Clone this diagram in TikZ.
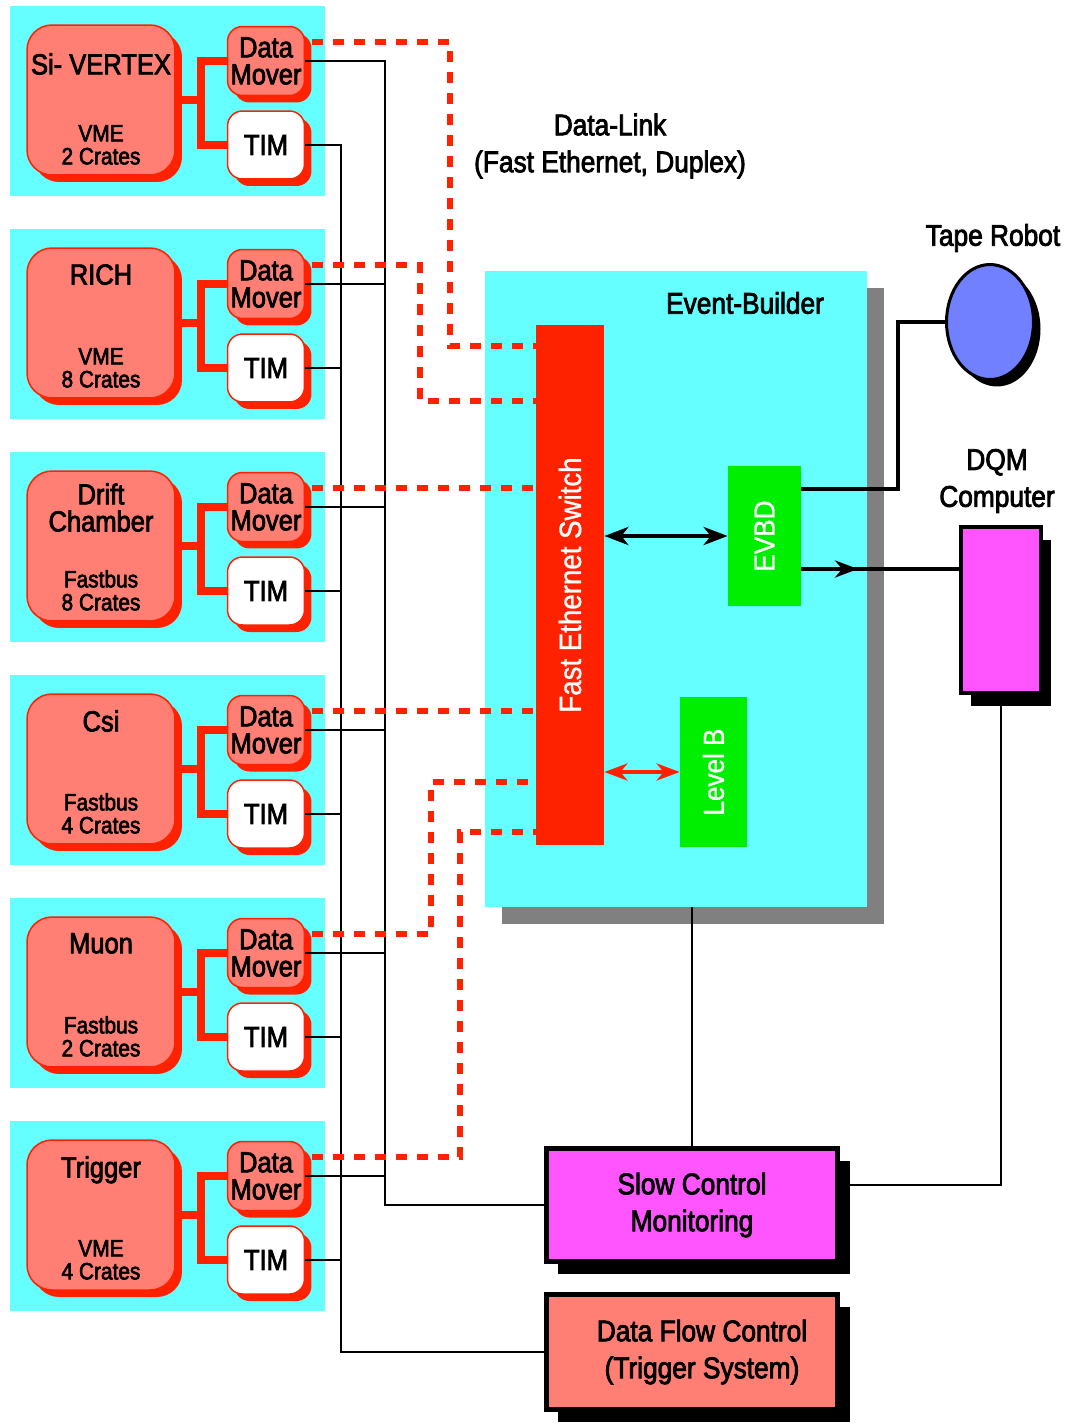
\documentclass[tikz,border=0pt]{standalone}
\usepackage{fontspec}
\setmainfont{Liberation Sans}[FakeStretch=0.88, FakeBold=2.6]
\newfontfamily\daqwhite{Liberation Sans}[FakeStretch=0.9, FakeBold=1]
\usepackage{graphicx}
\usetikzlibrary{arrows.meta, positioning, calc, shapes.geometric, shadows, decorations.markings}
\definecolor{DaqCyan}{HTML}{66FFFF}
\definecolor{DaqRed}{HTML}{FF2200}
\definecolor{DaqSalmon}{HTML}{FF7F74}
\definecolor{DaqGreen}{HTML}{00EE00}
\definecolor{DaqMagenta}{HTML}{FF55FF}
\definecolor{DaqBlue}{HTML}{7080FF}
\definecolor{DaqGray}{HTML}{808080}
\newcommand{\daqbig}{\fontsize{16.5}{15.4}\selectfont}
\newcommand{\daqsmall}{\fontsize{13.5}{13.1}\selectfont}
\newcommand{\daqlabel}{\fontsize{17}{21}\selectfont}
\tikzset{
    % Crate side
    panel/.style={
        rectangle,
        fill=DaqCyan,
        draw=none,
        inner sep=0pt,
        minimum width=6.3cm,
        minimum height=3.8cm
    },
    cratebox/.style={
        rectangle,
        rounded corners=.5cm,
        draw=DaqRed,
        fill=DaqSalmon,
        line width=.03cm,
        minimum width=2.96cm,
        minimum height=3cm,
        drop shadow={shadow xshift=.14cm, shadow yshift=-.14cm, fill=DaqRed, opacity=1}
    },
    moverbox/.style={
        rectangle,
        rounded corners=.3cm,
        draw=DaqRed,
        fill=DaqSalmon,
        line width=.03cm,
        inner sep=0pt,
        minimum width=1.54cm,
        minimum height=1.38cm,
        align=center,
        font=\daqbig,
        drop shadow={shadow xshift=.14cm, shadow yshift=-.14cm, fill=DaqRed, opacity=1}
    },
    timbox/.style={
        moverbox,
        fill=white,
        minimum height=1.36cm
    },
    cratetext/.style={
        inner sep=0pt,
        align=center
    },
    % Event builder side
    ebbox/.style={
        rectangle,
        fill=DaqCyan,
        draw=none,
        minimum width=7.64cm,
        minimum height=12.72cm,
        drop shadow={shadow xshift=.34cm, shadow yshift=-.34cm, fill=DaqGray, opacity=1}
    },
    switchbox/.style={
        rectangle,
        fill=DaqRed,
        draw=none,
        inner sep=0pt,
        minimum width=1.36cm,
        minimum height=10.4cm,
        text=white,
        font=\daqwhite\fontsize{17.5}{20}\selectfont
    },
    greenbox/.style={
        rectangle,
        fill=DaqGreen,
        draw=none,
        inner sep=0pt,
        text=white,
        font=\daqwhite\daqbig
    },
    tapebox/.style={
        ellipse,
        draw=black,
        line width=.06cm,
        fill=DaqBlue,
        inner sep=0pt,
        minimum width=1.74cm,
        minimum height=2.3cm,
        drop shadow={shadow xshift=.14cm, shadow yshift=-.14cm, fill=black, opacity=1}
    },
    dqmbox/.style={
        rectangle,
        draw=black,
        line width=.08cm,
        fill=DaqMagenta,
        minimum width=1.6cm,
        minimum height=3.34cm,
        drop shadow={shadow xshift=.2cm, shadow yshift=-.26cm, fill=black, opacity=1}
    },
    ctrlbox/.style={
        rectangle,
        draw=black,
        line width=.1cm,
        minimum width=5.84cm,
        minimum height=2.26cm,
        align=center,
        font=\daqlabel,
        drop shadow={shadow xshift=.24cm, shadow yshift=-.24cm, fill=black, opacity=1}
    },
    label/.style={
        align=center,
        font=\daqlabel
    },
    % Connectors
    bus/.style={draw=DaqRed, line width=.16cm},
    wire/.style={draw=black, line width=.045cm},
    thickwire/.style={draw=black, line width=.08cm},
    link/.style={draw=DaqRed, line width=.11cm, dash pattern=on .22cm off .2cm},
    dblarrow/.style={
        {Stealth[length=.48cm,width=.36cm,inset=.14cm]}-{Stealth[length=.48cm,width=.36cm,inset=.14cm]},
        draw=black,
        line width=.08cm
    },
    redarrow/.style={
        {Stealth[length=.46cm,width=.34cm,inset=.14cm]}-{Stealth[length=.46cm,width=.34cm,inset=.14cm]},
        draw=DaqRed,
        line width=.08cm
    },
    midarrow/.style={
        decoration={markings, mark=at position .36 with {\arrow{Stealth[length=.46cm,width=.34cm,inset=.14cm]}}},
        postaction={decorate}
    }
}

\begin{document}
\begin{tikzpicture}[x=.02cm, y=-.02cm]
    \useasboundingbox (0,0) rectangle (1073,1423);

    % Detector crates with data mover and TIM
    \foreach \ttl/\bus/\nc/\dy [count=\i] in {Si- VERTEX/VME/2/28, RICH/VME/8/16, {Drift\\Chamber}/Fastbus/8/12, Csi/Fastbus/4/16, Muon/Fastbus/2/16, Trigger/VME/4/16}{
        \pgfmathsetmacro{\ytop}{6+223*(\i-1)}
        \node[panel] (panel\i) at (167.5,\ytop+95) {};
        \node[cratebox] (sys\i) at (101,\ytop+94) {};
        \node[cratetext, anchor=north, font=\daqbig] (ttl\i) at (101,\ytop+19+\dy) {\ttl};
        \node[cratetext, anchor=south, font=\daqsmall] (crt\i) at (101,\ytop+159) {\bus\\\nc{} Crates};
        \node[moverbox] (dm\i) at (266,\ytop+55) {Data\\Mover};
        \node[timbox] (tim\i) at (266,\ytop+139) {TIM};
        \coordinate (j\i) at ([xshift=.5cm]sys\i.east);
        \draw[bus] (sys\i.east) -- (j\i);
        \draw[bus] (dm\i.west) -| (j\i) |- (tim\i.west);
        \coordinate (dl\i) at ([xshift=.14cm,yshift=.38cm]dm\i.east);
    }

    % Event builder
    \node[ebbox] (eb) at (676,589) {};
    \node[label] (eblbl) at (745,303) {Event-Builder};
    \node[switchbox] (sw) at (570,585) {\rotatebox{90}{Fast Ethernet Switch}};
    \node[greenbox, minimum width=1.46cm, minimum height=2.8cm] (evbd) at (764.5,536) {\rotatebox{90}{EVBD}};
    \node[greenbox, minimum width=1.34cm, minimum height=3cm] (lvb) at (713.5,772) {\rotatebox{90}{Level B}};

    % Outside units
    \node[tapebox] (tr) at (990,322) {};
    \node[label] (trlbl) at (993,238) {Tape Robot};
    \node[dqmbox] (dqm) at (1001,610) {};
    \node[label] (dqmlbl) at (997,481) {DQM\\Computer};
    \node[ctrlbox, fill=DaqMagenta] (sc) at (692,1205) {Slow Control\\Monitoring};
    \node[ctrlbox, fill=DaqSalmon, minimum height=2.3cm] (dfc) at (692,1352) {\hspace*{.4cm}Data Flow Control\\\hspace*{.4cm}(Trigger System)};
    \node[label] (linklbl) at (610,146) {Data-Link\\(Fast Ethernet, Duplex)};

    % Control and monitoring wires
    \coordinate (dbus) at (385,0);
    \coordinate (tbus) at (341,0);
    \draw[wire] (dm1.east) -| (dbus |- sc.west) -- (sc.west);
    \draw[wire] (tim1.east) -| (tbus |- dfc.west) -- (dfc.west);
    \foreach \i in {2,...,6}{
        \draw[wire] (dm\i.east) -- (dm\i.east -| dbus);
        \draw[wire] (tim\i.east) -- (tim\i.east -| tbus);
    }

    % Data links to the switch
    \coordinate (k1) at (450,346);
    \coordinate (k2) at (420,401);
    \coordinate (k5) at (431,782);
    \coordinate (k6) at (460,832);
    \draw[link] (dl1) -| (k1) -- (k1 -| sw.west);
    \draw[link] (dl2) -| (k2) -- (k2 -| sw.west);
    \draw[link] (dl3) -- (dl3 -| sw.west);
    \draw[link] (dl4) -- (dl4 -| sw.west);
    \draw[link] (dl5) -| (k5) -- (k5 -| sw.west);
    \draw[link] (dl6) -| (k6) -- (k6 -| sw.west);

    % Inside the event builder
    \draw[dblarrow] (sw.east |- evbd.west) -- (evbd.west);
    \draw[redarrow] (sw.east |- lvb.west) -- (lvb.west);

    % Event builder outputs
    \coordinate (tk) at (898,322);
    \draw[thickwire] ([yshift=.94cm]evbd.east) -| (tk) -- (tr.west);
    \coordinate (q) at ([yshift=-.66cm]evbd.east);
    \draw[thickwire, midarrow] (q) -- (q -| dqm.west);
    \draw[wire] (dqm.south) |- ([yshift=.4cm]sc.east);
    \draw[wire] (sc.north) -- (sc.north |- eb.south);
\end{tikzpicture}
\end{document}
